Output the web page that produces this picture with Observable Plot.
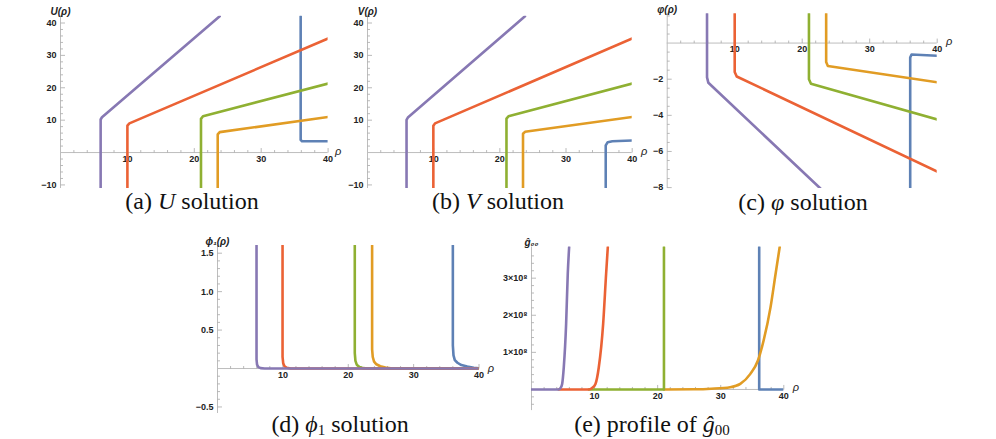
<!DOCTYPE html>
<html><head><meta charset="utf-8">
<script src="https://cdn.jsdelivr.net/npm/d3@7"></script>
<script src="https://cdn.jsdelivr.net/npm/@observablehq/plot@0.6"></script>
<style>
body{margin:0;background:#fff;}
#root{position:relative;width:996px;height:439px;overflow:hidden;background:#fff;}
.panel{position:absolute;}
.cap{position:absolute;font-family:"Liberation Serif","Times New Roman",serif;font-size:24px;line-height:24px;white-space:nowrap;transform:translateX(-50%);color:#111;}
.cap sub{font-size:15px;line-height:0;vertical-align:-3px;}
</style></head><body><div id="root"></div>
<script>
// Mathematica default palette, in drawing order
const seriesNames = ["blue", "orange", "green", "red", "purple"];
const seriesColors = ["#5E81B5", "#E19C24", "#8FB032", "#EB6235", "#8778B3"];
const rhoTicks = [10, 20, 30, 40];

// (a) U(rho)
const uBlue   = [[35.9, 42.1], [35.9, 3.9], [36.1, 3.5], [40, 3.5]];
const uOrange = [[23.5, -11.1], [23.5, 5.6], [23.8, 6.3], [40, 11.0]];
const uGreen  = [[21.0, -11.1], [21.0, 10.4], [21.3, 11.2], [40, 21.3]];
const uRed    = [[10.0, -11.1], [10.0, 8.3], [10.3, 9.0], [40, 35.2]];
const uPurple = [[6.0, -11.1], [6.0, 10.2], [6.2, 10.9], [23.8, 42.1]];
const uTicks = [-10, 10, 20, 30, 40];

// (b) V(rho)
const vBlue   = [[36.0, -11.1], [36.0, 2.2], [36.3, 3.2], [37, 3.5], [40, 3.7]];
const vOrange = [[23.5, -11.1], [23.5, 5.8], [23.8, 6.4], [40, 11.0]];
const vGreen  = [[21.0, -11.1], [21.0, 10.5], [21.3, 11.2], [40, 21.3]];
const vRed    = [[9.95, -11.1], [9.95, 8.3], [10.2, 9.0], [40, 35.2]];
const vPurple = [[5.9, -11.1], [5.9, 10.1], [6.1, 10.8], [23.8, 42.1]];
const vTicks = [-10, 10, 20, 30, 40];

// (c) varphi(rho)
const pBlue   = [[36.0, -8.05], [36.0, -0.8], [36.2, -0.63], [40, -0.70]];
const pOrange = [[23.55, 1.62], [23.55, -1.05], [23.8, -1.27], [40, -2.17]];
const pGreen  = [[21.0, 1.62], [21.0, -2.0], [21.3, -2.25], [40, -4.23]];
const pRed    = [[10.0, 1.62], [10.0, -1.6], [10.3, -1.85], [40, -7.11]];
const pPurple = [[5.9, 1.62], [5.9, -1.9], [6.1, -2.2], [22.7, -8.05]];
const pTicks = [-8, -6, -4, -2];

// (d) phi_1(rho)
const fBlue   = [[36.0, 1.6], [36.0, 0.3], [36.1, 0.17], [36.3, 0.11], [36.7, 0.075], [37.3, 0.045], [38.2, 0.025], [39.2, 0.01], [40, 0.003]];
const fOrange = [[23.65, 1.6], [23.65, 0.25], [23.75, 0.15], [23.95, 0.09], [24.3, 0.055], [24.9, 0.03], [25.7, 0.012], [26.5, 0.003], [27.5, 0], [40, 0]];
const fGreen  = [[21.0, 1.6], [21.0, 0.2], [21.1, 0.1], [21.3, 0.05], [21.7, 0.02], [22.3, 0.005], [23, 0], [40, 0]];
const fRed    = [[9.95, 1.6], [9.95, 0.15], [10.05, 0.07], [10.25, 0.03], [10.6, 0.01], [11.2, 0], [40, 0]];
const fPurple = [[5.97, 1.6], [5.97, 0.12], [6.05, 0.05], [6.25, 0.018], [6.6, 0.005], [7.2, 0], [40, 0]];
const fTicks = [-0.5, 0.5, 1.0, 1.5];

// (e) g00 profile, in units of 1e8
const gBlue   = [[36.1, 3.84], [36.1, 0], [40, 0]];
const gOrange = [[21.0, 0], [26, 0.005], [28.5, 0.02], [31.5, 0.06], [33.1, 0.15], [34.7, 0.42], [35.9, 0.78], [36.8, 1.32], [37.9, 2.22], [38.7, 3.12], [39.35, 3.84]];
const gGreen  = [[9.1, 0], [21.0, 0], [21.0, 3.84]];
const gRed    = [[4.3, 0], [9.1, 0], [9.6, 0.04], [10.14, 0.15], [10.67, 0.6], [11.36, 1.77], [11.83, 3.12], [12.1, 3.84]];
const gPurple = [[0, 0], [4.3, 0], [4.6, 0.04], [4.86, 0.15], [5.12, 0.6], [5.49, 1.77], [5.75, 3.12], [5.97, 3.84]];
const gTicks = [1, 2, 3];

const minus = v => (v < 0 ? "\u2212" : "") + Math.abs(v);
const sup8 = v => v + "\u00d710\u2078";

function seg(len, vertical) {
  return {draw(ctx) { ctx.moveTo(0, 0); if (vertical) ctx.lineTo(0, -len); else ctx.lineTo(len, 0); }};
}

const root = document.getElementById("root");
const axisColor = "#bdbdbd";
const tickColor = "#a8a8a8";
const labelFont = "Liberation Sans, Arial, sans-serif";

function panel(cfg) {
  const {box, fr, yDomain, series, yTicks, yFmt, yMinor, yLabel, rhoDx, rhoDy, curves} = cfg;
  const mL = fr.x0 - box.left, mR = box.left + box.width - fr.x1;
  const mT = fr.yt - box.top, mB = box.top + box.height - fr.yb;
  const xMinor = d3.range(2, 40.01, 2).filter(v => v % 10 !== 0);
  const yMin = yDomain[0], yMax = yDomain[1];
  const marks = [
    Plot.ruleY([0], {x1: () => 0, x2: () => 40, stroke: axisColor, strokeWidth: 1}),
    Plot.ruleX([0], {y1: () => yMin, y2: () => yMax, stroke: axisColor, strokeWidth: 1}),
    Plot.dot(xMinor, {x: d => d, y: () => 0, symbol: seg(2.5, true), stroke: tickColor, fill: "none", r: 1, strokeWidth: 0.8}),
    Plot.dot(rhoTicks, {x: d => d, y: () => 0, symbol: seg(4.5, true), stroke: tickColor, fill: "none", r: 1, strokeWidth: 0.8}),
    Plot.dot(yMinor, {x: () => 0, y: d => d, symbol: seg(2.5, false), stroke: tickColor, fill: "none", r: 1, strokeWidth: 0.8}),
    Plot.dot(yTicks, {x: () => 0, y: d => d, symbol: seg(4.5, false), stroke: tickColor, fill: "none", r: 1, strokeWidth: 0.8}),
    Plot.text(rhoTicks, {x: d => d, y: () => 0, text: d => String(d), lineAnchor: "top", dy: 3, fontWeight: "bold", fontSize: 9, fill: "#222"}),
    Plot.text(yTicks, {x: () => 0, y: d => d, text: yFmt, textAnchor: "end", dx: -4, fontWeight: "bold", fontSize: 9, fill: "#222"}),
    Plot.text([yLabel], {x: () => 0, frameAnchor: "top", dy: -8, text: d => d, fontWeight: "bold", fontStyle: "italic", fontSize: 10, fill: "#222"}),
    Plot.text(["\u03c1"], {x: () => 40, y: () => 0, text: d => d, dx: rhoDx, dy: rhoDy, fontStyle: "italic", fontSize: 11, fill: "#222"})
  ];
  series.forEach((s, i) => {
    marks.push(Plot.line(s, {x: d => d[0], y: d => d[1], stroke: seriesColors[i], strokeWidth: 2.6,
      curve: curves ? curves[i] : "linear", clip: true}));
  });
  const svg = Plot.plot({
    width: box.width, height: box.height,
    marginLeft: mL, marginRight: mR, marginTop: mT, marginBottom: mB,
    x: {domain: [0, 40], axis: null},
    y: {domain: yDomain, axis: null},
    style: {background: "transparent", overflow: "visible", fontFamily: labelFont},
    marks
  });
  svg.classList.add("panel");
  svg.style.left = box.left + "px";
  svg.style.top = box.top + "px";
  svg.style.position = "absolute";
  root.appendChild(svg);
}

function caption(html, cx, top) {
  const d = document.createElement("div");
  d.className = "cap";
  d.innerHTML = html;
  d.style.left = cx + "px";
  d.style.top = top + "px";
  root.appendChild(d);
}

panel({box: {left: 0, top: 0, width: 345, height: 195}, fr: {x0: 60, x1: 327.6, yt: 15.7, yb: 188},
  yDomain: [-11.1, 42.1], series: [uBlue, uOrange, uGreen, uRed, uPurple], yTicks: uTicks, yFmt: minus,
  yMinor: d3.range(-10, 42.1, 2).filter(v => v % 10 !== 0), yLabel: "U(\u03c1)", rhoDx: 10, rhoDy: -1});
panel({box: {left: 345, top: 0, width: 315, height: 195}, fr: {x0: 367, x1: 631.7, yt: 15.7, yb: 188},
  yDomain: [-11.1, 42.1], series: [vBlue, vOrange, vGreen, vRed, vPurple], yTicks: vTicks, yFmt: minus,
  yMinor: d3.range(-10, 42.1, 2).filter(v => v % 10 !== 0), yLabel: "V(\u03c1)", rhoDx: 12, rhoDy: -1});
panel({box: {left: 645, top: 0, width: 351, height: 195}, fr: {x0: 666.7, x1: 936.7, yt: 13.3, yb: 188},
  yDomain: [-8.05, 1.62], series: [pBlue, pOrange, pGreen, pRed, pPurple], yTicks: pTicks, yFmt: minus,
  yMinor: d3.range(-8, 1.6, 0.5).filter(v => v % 2 !== 0), yLabel: "\u03c6(\u03c1)", rhoDx: 12, rhoDy: -2});
panel({box: {left: 180, top: 228, width: 320, height: 190}, fr: {x0: 217, x1: 478.5, yt: 245, yb: 413},
  yDomain: [-0.585, 1.6], series: [fBlue, fOrange, fGreen, fRed, fPurple], yTicks: fTicks, yFmt: v => minus(v).replace(/^(\u2212?\d)$/, "$1.0"),
  yMinor: d3.range(-5, 16, 1).filter(v => v % 5 !== 0).map(v => v / 10), yLabel: "\u03d5\u2081(\u03c1)", rhoDx: 12, rhoDy: 0});
panel({box: {left: 500, top: 228, width: 320, height: 190}, fr: {x0: 531, x1: 783.3, yt: 246.5, yb: 410.1},
  yDomain: [-0.57, 3.84], series: [gBlue, gOrange, gGreen, gRed, gPurple], yTicks: gTicks, yFmt: sup8,
  yMinor: d3.range(-2, 19, 1).filter(v => v % 5 !== 0).map(v => v / 5), yLabel: "\u011d\u2080\u2080", rhoDx: 12, rhoDy: -2,
  curves: ["linear", "monotone-x", "linear", "monotone-x", "monotone-x"]});

caption("(a) <i>U</i> solution", 192, 189);
caption("(b) <i>V</i> solution", 498, 189);
caption("(c) <i>\u03c6</i> solution", 803, 190);
caption("(d) <i>\u03d5</i><sub>1</sub> solution", 340, 412);
caption("(e) profile of <i>\u011d</i><sub>00</sub>", 652, 412);
</script></body></html>
